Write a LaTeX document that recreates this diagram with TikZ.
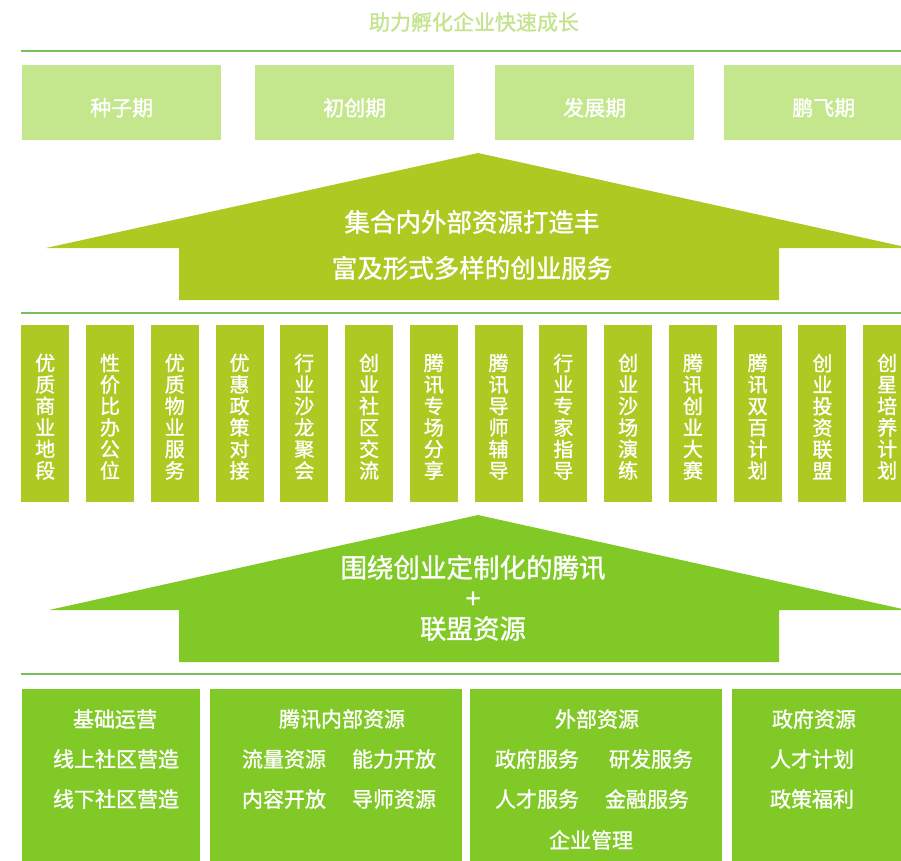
\documentclass[tikz,border=0pt]{standalone}
\usepackage{fontspec}
\setmainfont{Noto Sans CJK SC}
\newfontfamily\cjkmed{Noto Sans CJK SC}[FakeBold=1.2]
\usetikzlibrary{positioning}
\definecolor{stagegreen}{HTML}{C4E68C}
\definecolor{olivegreen}{HTML}{AEC922}
\definecolor{leafgreen}{HTML}{80C926}
\definecolor{rulegreen}{HTML}{78BE5A}
\definecolor{titlegreen}{HTML}{C3E38C}
\begin{document}
\begin{tikzpicture}[x=1pt,y=-1pt]
\tikzset{stagebox/.style = {rectangle, fill=stagegreen, minimum width=199pt, minimum height=75pt, anchor=north west, inner sep=0pt},
	svcbox/.style = {rectangle, fill=olivegreen, minimum width=48pt, minimum height=177pt, anchor=north west, inner sep=0pt},
	resbox/.style = {rectangle, fill=leafgreen, minimum height=172pt, anchor=north west, inner sep=0pt},
	whitetext/.style = {text=white, inner sep=0pt, font=\cjkmed\fontsize{21}{22}\selectfont},
	svctext/.style = {whitetext, align=center, font=\cjkmed\fontsize{20}{21.5}\selectfont},
	arrowtext/.style = {whitetext, align=center, font=\cjkmed\fontsize{25.5}{46}\selectfont},
	sepline/.style = {rulegreen, line width=2pt}}
\useasboundingbox (0,0) rectangle (901,860);
\node[inner sep=0pt, text=titlegreen, font=\cjkmed\fontsize{21}{22}\selectfont] (title) at (474,22) {助力孵化企业快速成长};
\draw[sepline] (21,51) -- (901,51);
% stages
\foreach \x/\t [count=\i] in {22/种子期, 255/初创期, 495/发展期, 724/鹏飞期}
	\node[stagebox, label={[whitetext, yshift=-5pt]center:\t}] (stage\i) at (\x,65) {};
% upper arrow
\fill[olivegreen] (478,153) -- (910,248) -- (779,248) -- (779,300) -- (179,300) -- (179,248) -- (46,248) -- cycle;
\node[arrowtext] (upnote) at (472,245) {集合内外部资源打造丰\\富及形式多样的创业服务};
\draw[sepline] (21,313) -- (901,313);
% services
\foreach \t [count=\i from 0] in {优\\质\\商\\业\\地\\段, 性\\价\\比\\办\\公\\位, 优\\质\\物\\业\\服\\务,
	优\\惠\\政\\策\\对\\接, 行\\业\\沙\\龙\\聚\\会, 创\\业\\社\\区\\交\\流, 腾\\讯\\专\\场\\分\\享,
	腾\\讯\\导\\师\\辅\\导, 行\\业\\专\\家\\指\\导, 创\\业\\沙\\场\\演\\练, 腾\\讯\\创\\业\\大\\赛,
	腾\\讯\\双\\百\\计\\划, 创\\业\\投\\资\\联\\盟, 创\\星\\培\\养\\计\\划}
{
	\node[svcbox] (svc\i) at ({21+64.77*\i},325) {};
	\node[svctext, yshift=-3pt] (svclabel\i) at (svc\i.center) {\t};
}
% lower arrow
\fill[leafgreen] (478,515) -- (907,610) -- (779,610) -- (779,662) -- (179,662) -- (179,610) -- (49,610) -- cycle;
\node[arrowtext, font=\cjkmed\fontsize{26.5}{30.5}\selectfont] (basenote) at (473,598) {围绕创业定制化的腾讯\\+\\联盟资源};
\draw[sepline] (21,674) -- (901,674);
% resources
\node[resbox, minimum width=178pt] (res1) at (22,689) {};
\node[resbox, minimum width=252pt] (res2) at (210,689) {};
\node[resbox, minimum width=252pt] (res3) at (470,689) {};
\node[resbox, minimum width=180pt] (res4) at (732,689) {};
\node[whitetext] (basis) at (115,719) {基础运营};
\node[whitetext] (online) at (116,759) {线上社区营造};
\node[whitetext] (offline) at (116,799) {线下社区营造};
\node[whitetext] (inner) at (342,719) {腾讯内部资源};
\node[whitetext] (traffic) at (284,759) {流量资源};
\node[whitetext] (ability) at (394,759) {能力开放};
\node[whitetext] (content) at (284,799) {内容开放};
\node[whitetext] (mentor) at (394,799) {导师资源};
\node[whitetext] (outer) at (597,719) {外部资源};
\node[whitetext] (govsvc) at (537,759) {政府服务};
\node[whitetext] (rnd) at (651,759) {研发服务};
\node[whitetext] (talentsvc) at (537,799) {人才服务};
\node[whitetext] (finance) at (647,799) {金融服务};
\node[whitetext] (mgmt) at (591,840) {企业管理};
\node[whitetext] (gov) at (814,719) {政府资源};
\node[whitetext] (talent) at (812,759) {人才计划};
\node[whitetext] (policy) at (812,799) {政策福利};
\end{tikzpicture}
\end{document}
